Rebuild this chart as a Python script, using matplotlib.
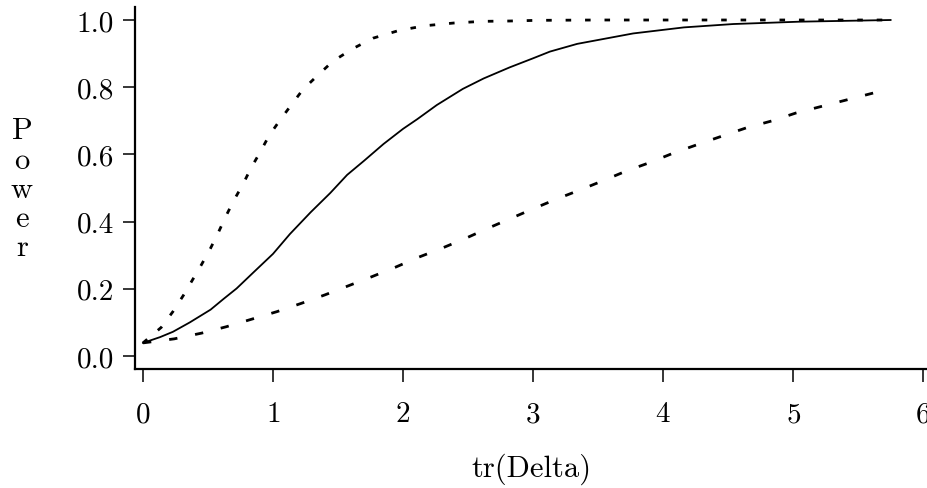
import numpy as np
import matplotlib
matplotlib.use("Agg")
import matplotlib.pyplot as plt

plt.rcParams['font.family'] = ['cmr10', 'DejaVu Serif']
plt.rcParams['axes.formatter.use_mathtext'] = True
plt.rcParams['lines.scale_dashes'] = False

# values
x_mid = [0.0, 0.13, 0.23, 0.36, 0.52, 0.62, 0.72, 0.85, 1.0, 1.13, 1.29, 1.44, 1.57,
         1.70, 1.85, 2.0, 2.11, 2.26, 2.46, 2.62, 2.82, 3.0, 3.13, 3.34, 3.77, 4.16,
         4.54, 5.05, 5.75]
y_mid = [0.039, 0.056, 0.072, 0.100, 0.138, 0.170, 0.201, 0.249, 0.304, 0.363, 0.428,
         0.485, 0.539, 0.581, 0.631, 0.676, 0.705, 0.747, 0.795, 0.826, 0.859, 0.886,
         0.906, 0.929, 0.960, 0.978, 0.988, 0.995, 1.0]

x_high = [0.0, 0.14, 0.23, 0.31, 0.38, 0.45, 0.52, 0.58, 0.64, 0.70, 0.77, 0.83, 0.90,
          0.97, 1.05, 1.14, 1.23, 1.34, 1.46, 1.61, 1.77, 1.97, 2.17, 2.39, 2.61, 2.82,
          3.03, 3.5, 4.0, 4.5, 5.0, 5.75]
y_high = [0.039, 0.085, 0.132, 0.180, 0.226, 0.272, 0.321, 0.368, 0.418, 0.464, 0.512,
          0.559, 0.606, 0.656, 0.700, 0.747, 0.793, 0.834, 0.877, 0.914, 0.946, 0.969,
          0.983, 0.991, 0.996, 0.997, 0.999, 1.0, 1.0, 1.0, 1.0, 1.0]

x_low = [0.0, 0.24, 0.45, 0.64, 0.84, 1.03, 1.22, 1.40, 1.58, 1.76, 1.94, 2.12, 2.30,
         2.48, 2.64, 2.82, 3.0, 3.18, 3.36, 3.54, 3.72, 3.90, 4.08, 4.27, 4.45, 4.64,
         4.84, 5.02, 5.22, 5.42, 5.64]
y_low = [0.039, 0.051, 0.068, 0.087, 0.110, 0.132, 0.157, 0.182, 0.209, 0.236, 0.264,
         0.294, 0.321, 0.350, 0.378, 0.408, 0.438, 0.467, 0.494, 0.522, 0.551, 0.576,
         0.604, 0.630, 0.654, 0.679, 0.700, 0.723, 0.743, 0.763, 0.785]

x_ticks = [0, 1, 2, 3, 4, 5, 6]
y_ticks = [0.0, 0.2, 0.4, 0.6, 0.8, 1.0]
y_ticklabels = ['0.0', '0.2', '0.4', '0.6', '0.8', '1.0']

fig = plt.figure(figsize=(9.27, 4.89), dpi=100)
ax = fig.add_axes([135 / 927, 1 - 370 / 489, 1 - 135 / 927, (370 - 8) / 489])

ax.plot(x_mid, y_mid, color='black', lw=1.3)
ax.plot(x_high, y_high, color='black', lw=2.0, linestyle=(0, (4, 10)))
ax.plot(x_low, y_low, color='black', lw=2.0, linestyle=(0, (6, 13)))

ax.set_xlim(-0.0615, 6.03)
ax.set_ylim(-0.0387, 1.0387)
ax.set_xticks(x_ticks)
ax.set_yticks(y_ticks)
ax.set_yticklabels(y_ticklabels)

for side in ['top', 'right']:
    ax.spines[side].set_visible(False)
for side in ['left', 'bottom']:
    ax.spines[side].set_linewidth(1.6)

ax.tick_params(axis='both', direction='out', length=9, width=1.1, labelsize=21, colors='black')
ax.tick_params(axis='x', pad=14)
ax.tick_params(axis='y', pad=6)

ax.set_xlabel('tr(Delta)', fontsize=22, labelpad=18)
fig.text(0.0237, 1 - 190 / 489, '\n'.join('Power'), fontsize=22, ha='center', va='center',
         linespacing=1.08)

fig.savefig('out.png', dpi=100)
